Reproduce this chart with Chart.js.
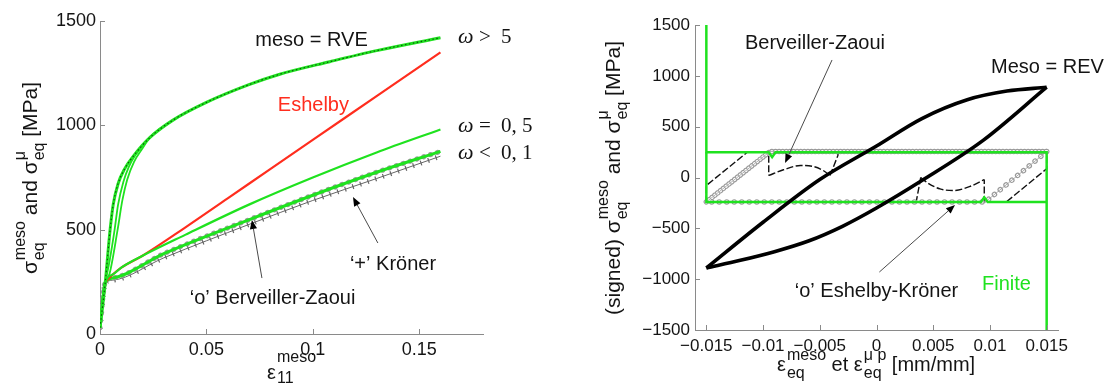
<!DOCTYPE html>
<html>
<head>
<meta charset="utf-8">
<script src="https://cdn.jsdelivr.net/npm/chart.js@4.4.1/dist/chart.umd.min.js"></script>
<style>
  html, body { margin: 0; padding: 0; background: #ffffff; }
  #wrap { position: relative; width: 1109px; height: 383px; overflow: hidden; background: #fff; }
  canvas { position: absolute; top: 0; }
</style>
</head>
<body>
<div id="wrap">
  <canvas id="left" width="560" height="383" style="left:0px"></canvas>
  <canvas id="right" width="549" height="383" style="left:560px"></canvas>
</div>
<script>
// ================= LEFT PANEL DATA =================
const leftXTickVals = [0, 0.05, 0.1, 0.15];
const leftXTickText = ['0', '0.05', '0.1', '0.15'];
const leftYTickVals = [0, 500, 1000, 1500];
const leftYTickText = ['0', '500', '1000', '1500'];

// meso = RVE  /  ω > 5
const epsRVE = [0, 0.0025, 0.0047, 0.0062, 0.0085, 0.0115, 0.0155, 0.0235, 0.0343, 0.05, 0.07, 0.0845, 0.108, 0.13, 0.16];
const sigRVE = [30, 250, 495, 620, 720, 790, 850, 942, 1025, 1110, 1195, 1245, 1305, 1358, 1420];
// other large-ω curves of the upper bundle (visible only near the knee)
const epsOmegaB = [0.0025, 0.0045, 0.0068, 0.0085, 0.011, 0.0135, 0.0165, 0.0235, 0.0343];
const sigOmegaB = [250, 350, 495, 620, 730, 800, 855, 942, 1025];
const epsOmegaC = [0.0025, 0.0045, 0.0082, 0.0105, 0.0128, 0.016, 0.02, 0.0235, 0.0343];
const sigOmegaC = [250, 290, 495, 640, 740, 825, 890, 942, 1025];
// Eshelby (red)
const epsEshelby = [0.0025, 0.006, 0.01, 0.02, 0.04, 0.06, 0.08, 0.1, 0.13, 0.16];
const sigEshelby = [250, 285, 318, 375, 510, 650, 790, 930, 1140, 1350];
// ω = 0,5
const epsOmega05 = [0, 0.0025, 0.006, 0.01, 0.02, 0.04, 0.07, 0.1, 0.13, 0.16];
const sigOmega05 = [30, 250, 285, 318, 375, 475, 620, 750, 870, 980];
// ω < 0,1  ('o' Berveiller-Zaoui)
const epsBZ = [0, 0.0025, 0.006, 0.03, 0.0714, 0.1, 0.13, 0.16];
const sigBZ = [30, 250, 268, 385, 553, 665, 775, 875];
// '+' Kröner
const epsKroner = [0, 0.0025, 0.006, 0.03, 0.07, 0.1, 0.13, 0.16];
const sigKroner = [25, 245, 258, 365, 525, 640, 745, 852];

// ================= RIGHT PANEL DATA =================
const rightXTickVals = [-0.015, -0.01, -0.005, 0, 0.005, 0.01, 0.015];
const rightXTickText = ['\u22120.015', '\u22120.01', '\u22120.005', '0', '0.005', '0.01', '0.015'];
const rightYTickVals = [-1500, -1000, -500, 0, 500, 1000, 1500];
const rightYTickText = ['\u22121500', '\u22121000', '\u2212500', '0', '500', '1000', '1500'];

// Meso = REV loop
const epsRevUp = [-0.015, -0.01, -0.005, 0, 0.004, 0.008, 0.0115, 0.015];
const sigRevUp = [-890, -440, -20, 310, 580, 765, 850, 888];
const epsRevDown = [-0.015, -0.012, -0.009, -0.006, -0.003, 0, 0.004, 0.0094, 0.015];
const sigRevDown = [-890, -815, -730, -625, -480, -300, -30, 365, 888];
// Finite (green)
const epsFiniteA = [-0.015, -0.015, -0.0095, -0.0092, -0.0089, 0.015, 0.015];
const sigFiniteA = [1500, 248, 248, 200, 248, 248, -1500];
const epsFiniteB = [-0.015, -0.015, 0.0092, 0.0095, 0.0098, 0.015];
const sigFiniteB = [248, -240, -240, -195, -240, -240];
// 'o' Eshelby-Kröner
const epsEKdense = [-0.015, -0.0094, 0.015];
const sigEKdense = [-240, 255, 255];
const epsEKsparse = [0.015, 0.0096, -0.015];
const sigEKsparse = [255, -240, -240];
// Berveiller-Zaoui (dashed)
const epsBZ1 = [0.0035, -0.015, -0.015, -0.0114, -0.0095, -0.0095];
const sigBZ1 = [-240, -240, -79, 248, 248, 20];
const epsBZarc1 = [-0.0095, -0.0082, -0.0067, -0.0056, -0.0047, -0.0041];
const sigBZarc1 = [20, 76, 118, 109, 69, 20];
const epsBZ2 = [-0.0041, -0.0034, -0.0034, 0.015, 0.015, 0.01145, 0.0095, 0.0095];
const sigBZ2 = [20, 217, 248, 248, 86, -240, -240, -20];
const epsBZarc2 = [0.0039, 0.0046, 0.0056, 0.0068, 0.0082, 0.0095];
const sigBZarc2 = [0, -60, -112, -128, -90, -20];
const epsBZ3 = [0.0039, 0.0035];
const sigBZ3 = [0, -240];

// ================= STYLE =================
const GREEN = '#1fe21f', RED = '#ff2d1e', AXIS = '#8a8a8a', TXT = '#141414';
const SANS = '"Liberation Sans", Arial, Helvetica, sans-serif';
const SERIF = '"Liberation Serif", "Times New Roman", serif';

function xy(xs, ys) { return xs.map((x, i) => ({ x: x, y: ys[i] })); }
function line(xs, ys, style) {
  return Object.assign({
    data: xy(xs, ys), showLine: true, pointRadius: 0, pointHoverRadius: 0,
    fill: false, tension: 0, borderWidth: 1.5, borderColor: '#000'
  }, style);
}
function stack(list) { const n = list.length; list.forEach((d, i) => { d.order = n - i; }); return list; }

function drawRich(ctx, runs, x, y, rot, align) {
  ctx.save();
  ctx.translate(x, y);
  if (rot) ctx.rotate(rot);
  ctx.textBaseline = 'alphabetic';
  ctx.textAlign = 'left';
  ctx.fillStyle = TXT;
  const widths = runs.map(r => {
    ctx.font = r.f;
    if (r.t !== undefined) return ctx.measureText(r.t).width + (r.gap || 0);
    return Math.max(ctx.measureText(r.sup).width, ctx.measureText(r.sub).width) + (r.gap || 0);
  });
  const W = widths.reduce((a, b) => a + b, 0);
  let cx = align === 'center' ? -W / 2 : 0;
  runs.forEach((r, i) => {
    ctx.font = r.f;
    if (r.t !== undefined) ctx.fillText(r.t, cx, 0);
    else { ctx.fillText(r.sup, cx, r.supDy); ctx.fillText(r.sub, cx, r.subDy); }
    cx += widths[i];
  });
  ctx.restore();
}

function makeOverlay(cfg) {
  return {
    id: 'overlay',
    afterDatasetsDraw(chart) {
      const ctx = chart.ctx, ca = chart.chartArea;
      const xs = chart.scales.x, ys = chart.scales.y;
      ctx.save();
      ctx.strokeStyle = AXIS; ctx.lineWidth = 1;
      cfg.xTicks.forEach(v => {
        const p = Math.round(xs.getPixelForValue(v)) + 0.5;
        ctx.beginPath(); ctx.moveTo(p, ca.bottom); ctx.lineTo(p, ca.bottom - 5); ctx.stroke();
      });
      cfg.yTicks.forEach(v => {
        const p = Math.round(ys.getPixelForValue(v)) + 0.5;
        ctx.beginPath(); ctx.moveTo(ca.left, p); ctx.lineTo(ca.left + 5, p); ctx.stroke();
      });
      cfg.arrows.forEach(a => {
        const x1 = xs.getPixelForValue(a.x1), y1 = ys.getPixelForValue(a.y1);
        const x2 = xs.getPixelForValue(a.x2), y2 = ys.getPixelForValue(a.y2);
        const ang = Math.atan2(y2 - y1, x2 - x1);
        const L = 9, Wd = 3.6;
        const bx = x2 - L * Math.cos(ang), by = y2 - L * Math.sin(ang);
        ctx.strokeStyle = '#4a4a4a'; ctx.lineWidth = 1;
        ctx.beginPath(); ctx.moveTo(x1, y1); ctx.lineTo(bx, by); ctx.stroke();
        ctx.fillStyle = '#000';
        ctx.beginPath(); ctx.moveTo(x2, y2);
        ctx.lineTo(bx - Wd * Math.sin(ang), by + Wd * Math.cos(ang));
        ctx.lineTo(bx + Wd * Math.sin(ang), by - Wd * Math.cos(ang));
        ctx.closePath(); ctx.fill();
      });
      ctx.textAlign = 'center'; ctx.textBaseline = 'middle';
      cfg.texts.forEach(t => {
        ctx.font = '20px ' + SANS; ctx.fillStyle = t.c;
        ctx.fillText(t.t, xs.getPixelForValue(t.x), ys.getPixelForValue(t.y));
      });
      (cfg.omegas || []).forEach(o => {
        const px = xs.getPixelForValue(o.x), py = ys.getPixelForValue(o.y) + 6;
        ctx.fillStyle = TXT; ctx.textBaseline = 'alphabetic';
        ctx.textAlign = 'left'; ctx.font = 'italic 22px ' + SERIF; ctx.fillText('\u03C9', px, py);
        ctx.textAlign = 'center'; ctx.font = '21px ' + SERIF; ctx.fillText(o.rel, px + 27, py);
        ctx.textAlign = 'left'; ctx.fillText(o.rest, px + 43, py);
      });
      cfg.titles.forEach(tt => drawRich(ctx, tt.runs, tt.x, tt.y, tt.rot, tt.align));
      ctx.restore();
    }
  };
}

function makeChart(id, datasets, sx, sy, pad, yWidth, xHeight, fontSize, overlay) {
  const tickFont = { family: SANS, size: fontSize };
  return new Chart(document.getElementById(id), {
    type: 'scatter',
    data: { datasets: datasets },
    options: {
      responsive: false, animation: false, devicePixelRatio: 1,
      events: [],
      layout: { padding: pad },
      plugins: { legend: { display: false }, tooltip: { enabled: false } },
      scales: {
        x: {
          type: 'linear', position: 'bottom', min: sx.min, max: sx.max,
          afterBuildTicks: s => { s.ticks = sx.vals.map(v => ({ value: v })); },
          afterFit: s => { s.height = xHeight; },
          ticks: { callback: (v, i) => sx.text[i], font: tickFont, color: TXT, padding: sx.pad, maxRotation: 0, autoSkip: false },
          grid: { display: true, drawOnChartArea: false, drawTicks: false },
          border: { color: AXIS, width: 1 }
        },
        y: {
          type: 'linear', position: 'left', min: sy.min, max: sy.max,
          afterBuildTicks: s => { s.ticks = sy.vals.map(v => ({ value: v })); },
          afterFit: s => { s.width = yWidth; },
          ticks: { callback: (v, i) => sy.text[i], font: tickFont, color: TXT, padding: sy.pad, autoSkip: false },
          grid: { display: true, drawOnChartArea: false, drawTicks: false },
          border: { color: AXIS, width: 1 }
        }
      }
    },
    plugins: [overlay]
  });
}

const mono = { cubicInterpolationMode: 'monotone' };
const F_MAIN = '21px ' + SANS, F_SCR = '16px ' + SANS;

// ---------------- LEFT CHART ----------------
const leftSets = stack([
  line(epsKroner, sigKroner, Object.assign({ borderColor: '#666', borderWidth: 1 }, mono)),
  line(epsKroner, sigKroner, Object.assign({ borderColor: '#666', borderWidth: 5, borderDash: [1.2, 6.8] }, mono)),
  line(epsBZ, sigBZ, Object.assign({ borderColor: '#9a9a9a', borderWidth: 5.2, borderDash: [0.01, 7.2], borderCapStyle: 'round' }, mono)),
  line(epsBZ, sigBZ, Object.assign({ borderColor: GREEN, borderWidth: 3 }, mono)),
  line(epsEshelby, sigEshelby, Object.assign({ borderColor: RED, borderWidth: 2.2 }, mono)),
  line(epsOmega05, sigOmega05, Object.assign({ borderColor: GREEN, borderWidth: 2.2 }, mono)),
  line(epsOmegaC, sigOmegaC, Object.assign({ borderColor: GREEN, borderWidth: 1.8 }, mono)),
  line(epsOmegaB, sigOmegaB, Object.assign({ borderColor: GREEN, borderWidth: 1.8 }, mono)),
  line(epsRVE, sigRVE, Object.assign({ borderColor: GREEN, borderWidth: 3 }, mono)),
  line(epsRVE, sigRVE, Object.assign({ borderColor: 'rgba(0,0,0,0.65)', borderWidth: 1.1, borderDash: [1.5, 2.5] }, mono))
]);

makeChart('left', leftSets,
  { min: 0, max: 0.18, vals: leftXTickVals, text: leftXTickText, pad: 5 },
  { min: 0, max: 1500, vals: leftYTickVals, text: leftYTickText, pad: 4 },
  { left: 0, top: 21, right: 77, bottom: 0 }, 100, 49, 18,
  makeOverlay({
    xTicks: leftXTickVals, yTicks: leftYTickVals,
    arrows: [
      { x1: 0.0761, y1: 268, x2: 0.0714, y2: 546 },
      { x1: 0.1306, y1: 436, x2: 0.1189, y2: 656 }
    ],
    texts: [
      { x: 0.0994, y: 1409, t: 'meso = RVE', c: TXT },
      { x: 0.1003, y: 1093, t: 'Eshelby', c: RED },
      { x: 0.1377, y: 331, t: '\u2018+\u2019 Kr\u00f6ner', c: TXT },
      { x: 0.0811, y: 172, t: '\u2018o\u2019 Berveiller-Zaoui', c: TXT }
    ],
    omegas: [
      { x: 0.1682, y: 1423, rel: '>', rest: '5' },
      { x: 0.1682, y: 997, rel: '=', rest: '0, 5' },
      { x: 0.1682, y: 867, rel: '<', rest: '0, 1' }
    ],
    titles: [
      { x: 37, y: 178, rot: -Math.PI / 2, align: 'center', runs: [
        { t: '\u03C3', f: F_MAIN, gap: 1 },
        { sup: 'meso', sub: 'eq', f: F_SCR, supDy: -12, subDy: 7 },
        { t: ' and ', f: F_MAIN },
        { t: '\u03C3', f: F_MAIN, gap: 1 },
        { sup: '\u03BC', sub: 'eq', f: F_SCR, supDy: -12, subDy: 7 },
        { t: ' [MPa]', f: F_MAIN }
      ] },
      { x: 267, y: 379, rot: 0, align: 'left', runs: [
        { t: '\u03B5', f: '20px ' + SANS, gap: 1 },
        { sup: 'meso', sub: '11', f: F_SCR, supDy: -17, subDy: 4 }
      ] }
    ]
  })
);

// ---------------- RIGHT CHART ----------------
const dashBZ = { borderColor: '#111', borderWidth: 1.4, borderDash: [7, 2.5] };
const rightSets = stack([
  line(epsBZ1, sigBZ1, Object.assign({}, dashBZ)),
  line(epsBZ2, sigBZ2, Object.assign({}, dashBZ)),
  line(epsBZ3, sigBZ3, Object.assign({}, dashBZ)),
  line(epsBZarc1, sigBZarc1, Object.assign({}, dashBZ, mono)),
  line(epsBZarc2, sigBZarc2, Object.assign({}, dashBZ, mono)),
  line(epsEKdense, sigEKdense, { borderColor: '#9a9a9a', borderWidth: 5.5, borderDash: [0.01, 3.6], borderCapStyle: 'round' }),
  line(epsEKsparse, sigEKsparse, { borderColor: '#9a9a9a', borderWidth: 5.5, borderDash: [0.01, 7.5], borderCapStyle: 'round' }),
  line(epsEKdense, sigEKdense, { borderColor: '#ffffff', borderWidth: 3.2, borderDash: [0.01, 3.6], borderCapStyle: 'round' }),
  line(epsEKsparse, sigEKsparse, { borderColor: '#ffffff', borderWidth: 3.2, borderDash: [0.01, 7.5], borderCapStyle: 'round' }),
  line(epsEKdense, sigEKdense, { borderColor: '#9a9a9a', borderWidth: 0.8 }),
  line(epsEKsparse, sigEKsparse, { borderColor: '#9a9a9a', borderWidth: 0.8 }),
  line(epsFiniteA, sigFiniteA, { borderColor: GREEN, borderWidth: 2.5 }),
  line(epsFiniteB, sigFiniteB, { borderColor: GREEN, borderWidth: 2.5 }),
  line(epsRevUp, sigRevUp, Object.assign({ borderColor: '#000', borderWidth: 3.6 }, mono)),
  line(epsRevDown, sigRevDown, Object.assign({ borderColor: '#000', borderWidth: 3.6 }, mono))
]);

makeChart('right', rightSets,
  { min: -0.016, max: 0.016, vals: rightXTickVals, text: rightXTickText, pad: 6 },
  { min: -1500, max: 1500, vals: rightYTickVals, text: rightYTickText, pad: 5 },
  { left: 0, top: 25, right: 51, bottom: 0 }, 135, 53, 17,
  makeOverlay({
    xTicks: rightXTickVals, yTicks: rightYTickVals,
    arrows: [
      { x1: -0.00392, y1: 1156, x2: -0.00806, y2: 143 },
      { x1: 0.00025, y1: -930, x2: 0.00692, y2: -270 }
    ],
    texts: [
      { x: -0.00542, y: 1323, t: 'Berveiller-Zaoui', c: TXT },
      { x: 0.01507, y: 1082, t: 'Meso = REV', c: TXT },
      { x: 0.0, y: -1126, t: '\u2018o\u2019 Eshelby-Kr\u00f6ner', c: TXT },
      { x: 0.01146, y: -1057, t: 'Finite', c: GREEN }
    ],
    omegas: [],
    titles: [
      { x: 60, y: 178, rot: -Math.PI / 2, align: 'center', runs: [
        { t: '(signed) ', f: F_MAIN },
        { t: '\u03C3', f: F_MAIN, gap: 1 },
        { sup: 'meso', sub: 'eq', f: F_SCR, supDy: -12, subDy: 7 },
        { t: ' and ', f: F_MAIN },
        { t: '\u03C3', f: F_MAIN, gap: 1 },
        { sup: '\u03BC', sub: 'eq', f: F_SCR, supDy: -12, subDy: 7 },
        { t: ' [MPa]', f: F_MAIN }
      ] },
      { x: 217, y: 371, rot: 0, align: 'left', runs: [
        { t: '\u03B5', f: '20px ' + SANS, gap: 1 },
        { sup: 'meso', sub: 'eq', f: F_SCR, supDy: -11, subDy: 7 },
        { t: ' et ', f: '20px ' + SANS },
        { t: '\u03B5', f: '20px ' + SANS, gap: 1 },
        { sup: '\u03BC p', sub: 'eq', f: F_SCR, supDy: -11, subDy: 7 },
        { t: ' [mm/mm]', f: '20px ' + SANS }
      ] }
    ]
  })
);
</script>
</body>
</html>
